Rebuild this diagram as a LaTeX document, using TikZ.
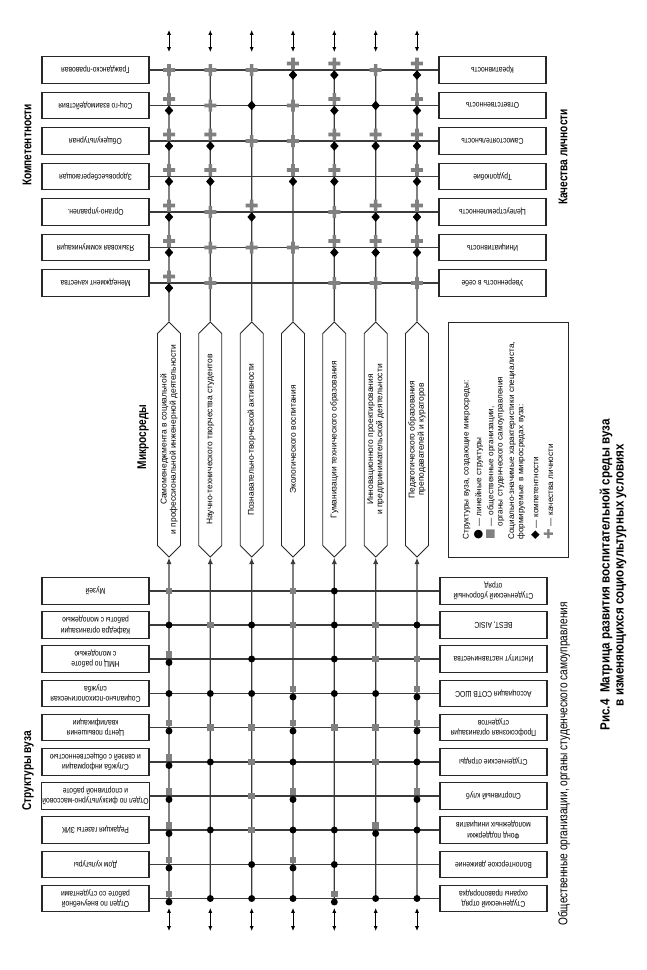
\documentclass[tikz,border=0pt]{standalone}
\usepackage{fontspec}
\setmainfont{Liberation Sans}
\newfontfamily\narrowfont{Liberation Sans}[FakeStretch=0.8]
\newfontfamily\titlefont{Liberation Sans}[FakeStretch=0.87]
\newfontfamily\symfont{DejaVu Sans}
\usetikzlibrary{arrows.meta,shapes.symbols}

\definecolor{linec}{RGB}{60,60,60}
\definecolor{boxc}{RGB}{40,40,40}
\definecolor{markc}{RGB}{128,128,128}

% markers at the grid crossings (sizes in pixel units of the picture)
\tikzset{
  plusmk/.pic={\fill[markc] (-6,-1.8) rectangle (6,1.8) (-1.8,-6) rectangle (1.8,6);},
  diamk/.pic={\fill[black] (-4.2,0) -- (0,-4.8) -- (4.2,0) -- (0,4.8) -- cycle;},
  dotmk/.pic={\fill[black] (0,0) circle[radius=0.87mm];},
  sqmk/.pic={\fill[markc] (-3.4,-3.4) rectangle (3.4,3.4);},
  % 0 none, 1 quality, 2 competence, 3 both
  tmk/.pic={\ifcase#1\or\pic{plusmk};\or\pic{diamk};\or\pic at (0,-6.5) {plusmk};\pic at (0,5) {diamk};\fi},
  % 0 none, 1 structure, 2 organisation, 3 both
  bmk/.pic={\ifcase#1\or\pic{dotmk};\or\pic{sqmk};\or\pic at (0,-4.5) {sqmk};\pic at (0,3.5) {dotmk};\fi},
}

\begin{document}
\begin{tikzpicture}[
  x=0.25mm, y=-0.25mm,
  font=\narrowfont\fontsize{6}{7.4}\selectfont,
  % grid boxes, text upside down
  box/.style={rectangle, draw=boxc, line width=0.9pt, rotate=180,
              minimum width=26.75mm, minimum height=6.6mm, inner sep=0.5pt,
              align=center, fill=white},
  % microenvironment hexagon
  hexa/.style={shape=signal, signal to=east and west, draw=boxc, line width=0.6pt,
               rotate=90, minimum width=58.75mm, minimum height=5.75mm,
               inner sep=0.5pt, align=center, font=\fontsize{6}{6.6}\selectfont},
  % rotated headings
  hdr/.style={rotate=90, font=\narrowfont\bfseries\fontsize{9}{10.5}\selectfont},
  gl/.style={draw=linec, line width=0.9pt},
  uarr/.style={gl, -{Latex[length=1.6mm,width=1.3mm]}},
  darr/.style={black, line width=0.6pt,
               {Latex[length=1.2mm,width=1mm]}-{Latex[length=1.2mm,width=1mm]}}
]
\useasboundingbox (0,0) rectangle (647,970);

% ── Headings ───────────────────────────────────────────────────────────────
\node[hdr] (hcomp) at (27,145)  {Компетентности};
\node[hdr] (hqual) at (563,157) {Качества личности};
\node[hdr] (hmicro) at (143,437) {Микросреды};
\node[hdr] (hstruct) at (28,771) {Структуры вуза};
\node[hdr, font=\narrowfont\fontsize{9}{10.5}\selectfont]
           (horg) at (564,764) {Общественные организации, органы студенческого самоуправления};
\node[hdr, align=center, font=\titlefont\bfseries\fontsize{9.5}{10}\selectfont]
           (title) at (613,575) {Рис.4\ \ Матрица развития воспитательной среды вуза\\
                                 в изменяющихся социокультурных условиях};

% ── Competences (left) and personal qualities (right) ─────────────────────
\node[box] (kl1) at (95.5,70)    {Гражданско-правовая};
\node[box] (kl2) at (95.5,105.5) {Соц-го взаимодействия};
\node[box] (kl3) at (95.5,141)   {Общекультурная};
\node[box] (kl4) at (95.5,176.5) {Здоровьесберегающая};
\node[box] (kl5) at (95.5,212)   {Органо-управлен.};
\node[box] (kl6) at (95.5,247.5) {Языковая коммуникация};
\node[box] (kl7) at (95.5,283)   {Менеджмент качества};

\node[box] (kr1) at (492.5,70)    {Креативность};
\node[box] (kr2) at (492.5,105.5) {Ответственность};
\node[box] (kr3) at (492.5,141)   {Самостоятельность};
\node[box] (kr4) at (492.5,176.5) {Трудолюбие};
\node[box] (kr5) at (492.5,212)   {Целеустремленность};
\node[box] (kr6) at (492.5,247.5) {Инициативность};
\node[box] (kr7) at (492.5,283)   {Уверенность в себе};

\draw[gl] (kl1) -- (kr1);
\draw[gl] (kl2) -- (kr2);
\draw[gl] (kl3) -- (kr3);
\draw[gl] (kl4) -- (kr4);
\draw[gl] (kl5) -- (kr5);
\draw[gl] (kl6) -- (kr6);
\draw[gl] (kl7) -- (kr7);

% ── Microenvironments ─────────────────────────────────────────────────────
\node[hexa] (ms1) at (169,439.5)   {Самоменеджмента в социальной\\и профессиональной инженерной деятельности};
\node[hexa] (ms2) at (210.3,439.5) {Научно-технического творчества студентов};
\node[hexa] (ms3) at (251.7,439.5) {Познавательно-творческой активности};
\node[hexa] (ms4) at (293,439.5)   {Экологического воспитания};
\node[hexa] (ms5) at (334.3,439.5) {Гуманизации технического образования};
\node[hexa] (ms6) at (375.7,439.5) {Инновационного проектирования\\и предпринимательской деятельности};
\node[hexa] (ms7) at (417,439.5)   {Педагогического образования\\преподавателей и кураторов};

% ── University structures (left) and student organisations (right) ───────
\node[box] (sl1)  at (95.5,591)   {Музей};
\node[box] (sl2)  at (95.5,625)   {Кафедра организации\\работы с молодежью};
\node[box] (sl3)  at (95.5,659)   {НМЦ по работе\\с молодежью};
\node[box] (sl4)  at (95.5,693.5) {Социально-психологическая\\служба};
\node[box] (sl5)  at (95.5,727.5) {Центр повышения\\квалификации};
\node[box] (sl6)  at (95.5,762)   {Служба информации\\и связей с общественностью};
\node[box] (sl7)  at (95.5,796)   {Отдел по физкультурно-массовой\\и спортивной работе};
\node[box] (sl8)  at (95.5,830)   {Редакция газеты ЗИК};
\node[box] (sl9)  at (95.5,864.5) {Дом культуры};
\node[box] (sl10) at (95.5,898.5) {Отдел по внеучебной\\работе со студентами};

\node[box] (sr1)  at (493.5,591)   {Студенческий уборочный\\отряд};
\node[box] (sr2)  at (493.5,625)   {BEST, AISIC};
\node[box] (sr3)  at (493.5,659)   {Институт наставничества};
\node[box] (sr4)  at (493.5,693.5) {Ассоциация СОТВ ШОС};
\node[box] (sr5)  at (493.5,727.5) {Профсоюзная организация\\студентов};
\node[box] (sr6)  at (493.5,762)   {Студенческие отряды};
\node[box] (sr7)  at (493.5,796)   {Спортивный клуб};
\node[box] (sr8)  at (493.5,830)   {Фонд поддержки\\молодежных инициатив};
\node[box] (sr9)  at (493.5,864.5) {Волонтерское движение};
\node[box] (sr10) at (493.5,898.5) {Студенческий отряд\\охраны правопорядка};

\draw[gl] (sl1) -- (sr1);
\draw[gl] (sl2) -- (sr2);
\draw[gl] (sl3) -- (sr3);
\draw[gl] (sl4) -- (sr4);
\draw[gl] (sl5) -- (sr5);
\draw[gl] (sl6) -- (sr6);
\draw[gl] (sl7) -- (sr7);
\draw[gl] (sl8) -- (sr8);
\draw[gl] (sl9) -- (sr9);
\draw[gl] (sl10) -- (sr10);

% ── Column lines ──────────────────────────────────────────────────────────
\foreach \x [count=\c] in {169,210.3,251.7,293,334.3,375.7,417} {
  \coordinate (ct\c) at (\x,66);
  \coordinate (cb\c) at (\x,898.5);
  \coordinate (ua\c) at (\x,30);  \coordinate (ub\c) at (\x,52);
  \coordinate (da\c) at (\x,908); \coordinate (db\c) at (\x,931);
  \draw[gl]   (ct\c) -- (ms\c);
  \draw[uarr] (cb\c) -- (ms\c);
  \draw[darr] (ua\c) -- (ub\c);
  \draw[darr] (da\c) -- (db\c);
}

% ── Crossing markers ──────────────────────────────────────────────────────
\foreach \y/\codes in {70/{1,1,1,3,3,1,3}, 105.5/{3,1,2,1,3,2,3},
    141/{3,3,1,1,3,3,3}, 176.5/{3,3,0,3,3,0,3}, 212/{3,1,3,0,1,3,3},
    247.5/{3,1,1,1,3,3,3}, 283/{3,1,0,0,1,1,1}}
  \foreach \m [count=\c] in \codes
    \pic at ({169+41.33*(\c-1)},\y) {tmk=\m};

\foreach \y/\codes in {591/{2,0,0,2,1,0,0}, 625/{1,2,1,2,1,2,1},
    659/{3,0,1,0,1,2,2}, 693.5/{1,1,1,3,1,1,3}, 727.5/{3,2,2,3,2,2,3},
    762/{3,1,2,1,0,2,1}, 796/{3,0,2,3,0,0,3}, 830/{3,1,2,1,1,3,1},
    864.5/{3,0,1,3,1,0,0}, 898.5/{3,1,1,1,3,1,1}}
  \foreach \m [count=\c] in \codes
    \pic at ({169+41.33*(\c-1)},\y) {bmk=\m};

% ── Legend ────────────────────────────────────────────────────────────────
\node[draw=boxc, line width=0.6pt, rotate=90, minimum width=58.75mm,
      minimum height=30mm, text width=50mm, inner xsep=4.3mm, align=left,
      font=\fontsize{5.8}{6.6}\selectfont] (legend) at (508,439.5)
  {Структуры вуза, создающие микросреды:\\[2.5pt]
   {\symfont\fontsize{8}{8}\selectfont ●} --- линейные структуры\\[2pt]
   {\symfont\fontsize{8}{8}\selectfont\color{markc}■} --- общественные организации,\\
   \phantom{{\symfont\fontsize{8}{8}\selectfont ■} }органы студенческого самоуправления\\[1.5pt]
   Социально-значимые характеристики специалиста,\\
   формируемые в микросредах вуза:\\[4pt]
   {\symfont\fontsize{8}{8}\selectfont ◆} --- компетентности\\[2pt]
   {\symfont\fontsize{9}{9}\selectfont\color{markc}✚} --- качества личности};

\end{tikzpicture}
\end{document}
